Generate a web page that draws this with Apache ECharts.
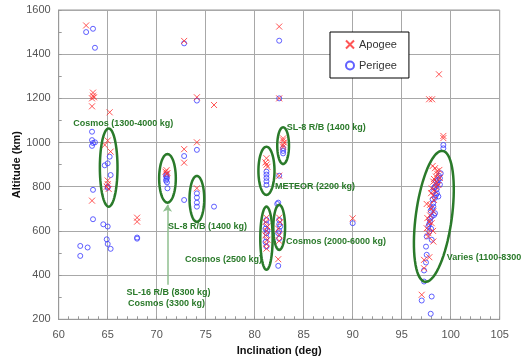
<!DOCTYPE html>
<html>
<head>
<meta charset="utf-8">
<script src="https://cdn.jsdelivr.net/npm/echarts@6/dist/echarts.min.js"></script>
<style>
  html, body { margin: 0; padding: 0; background: #fff; }
  #chart { width: 524px; height: 360px; }
</style>
</head>
<body>
<div id="chart"></div>
<script>
// [inclination (deg), altitude (km)]
const apogee = [
  [62.8, 1530], [63.5, 1226], [63.5, 1212], [63.6, 1205], [63.4, 1200], [63.4, 1164],
  [65.2, 1137], [65.0, 1009], [64.7, 989], [65.3, 959], [65.0, 828], [65.0, 812],
  [64.9, 800], [65.1, 790], [63.4, 737], [68.0, 660], [68.0, 642],
  [72.8, 1460], [74.1, 1205], [75.85, 1170], [74.1, 1001], [72.8, 970], [72.8, 909],
  [71.0, 875], [70.9, 868], [71.1, 862], [71.0, 858], [74.1, 793],
  [82.5, 1525], [82.5, 1200], [82.9, 1019], [82.9, 1010], [83.0, 1000], [82.9, 990],
  [82.9, 981], [81.2, 929], [81.1, 910], [81.2, 900], [81.3, 890], [82.5, 850],
  [81.2, 660], [81.1, 640], [81.3, 620], [81.2, 600], [81.1, 580], [81.3, 560],
  [81.2, 540], [81.2, 520], [82.5, 660], [82.6, 640], [82.4, 610], [82.5, 580],
  [82.5, 555], [82.4, 472], [90.0, 657],
  [98.8, 1309], [97.8, 1196], [98.1, 1196], [99.25, 1030], [99.25, 1020],
  [98.16, 894], [98.4, 884], [98.84, 876], [98.64, 858], [98.5, 846], [98.23, 823],
  [98.74, 808], [98.06, 793], [98.0, 771], [97.55, 722], [97.89, 718], [98.23, 688],
  [97.62, 658], [98.06, 635], [97.55, 612], [97.72, 590], [98.23, 552], [97.82, 481],
  [97.28, 469], [97.28, 431], [97.04, 311], [98.6, 870], [98.3, 835], [98.9, 840],
  [98.5, 800], [98.2, 760], [98.3, 740], [98.0, 700], [97.9, 670], [97.8, 640],
  [98.2, 600], [97.7, 575], [98.4, 780], [98.6, 820]
];
const perigee = [
  [62.8, 1500], [63.5, 1515], [63.7, 1429], [63.4, 1049], [63.4, 1011], [63.7, 1001],
  [63.5, 998], [63.4, 985], [65.2, 936], [65.0, 906], [64.7, 897], [65.3, 853],
  [65.0, 800], [65.0, 795], [63.5, 786], [63.5, 653], [64.55, 630], [65.0, 620],
  [64.9, 562], [65.0, 541], [65.3, 519], [62.2, 532], [62.2, 487], [62.95, 525],
  [68.0, 570], [68.0, 565],
  [72.8, 1449], [74.1, 1190], [74.1, 967], [72.8, 939], [71.0, 855], [70.95, 848],
  [71.05, 842], [71.0, 835], [70.95, 828], [71.05, 820], [71.1, 793], [72.8, 740],
  [74.1, 770], [74.1, 751], [74.1, 728], [74.1, 710], [75.85, 710],
  [82.5, 1461], [82.5, 1200], [82.9, 974], [82.9, 962], [82.9, 951], [81.2, 868],
  [81.2, 855], [81.2, 840], [81.2, 825], [81.2, 808], [82.5, 850], [82.4, 728],
  [81.2, 650], [81.2, 630], [81.1, 610], [81.3, 600], [81.2, 590], [81.2, 570],
  [81.1, 550], [81.2, 530], [82.5, 650], [82.5, 630], [82.6, 620], [82.5, 600],
  [82.4, 590], [82.5, 565], [82.3, 722], [82.4, 442], [90.0, 635],
  [99.25, 989], [99.25, 974], [98.98, 861], [98.9, 838], [98.64, 816], [98.4, 801],
  [98.57, 789], [98.23, 778], [98.5, 763], [98.74, 756], [98.16, 743], [98.23, 710],
  [97.96, 692], [98.4, 680], [98.06, 665], [97.89, 642], [97.72, 620], [97.82, 597],
  [97.55, 575], [98.06, 560], [97.48, 529], [97.55, 492], [97.48, 457], [97.28, 421],
  [97.28, 371], [97.04, 285], [98.06, 303], [97.96, 225], [98.8, 850], [98.7, 830],
  [98.5, 825], [98.9, 810], [98.3, 795], [98.6, 770], [98.4, 750], [98.2, 725],
  [98.1, 700], [98.3, 672], [97.9, 655], [97.8, 630], [98.0, 610]
];

// ellipses round the groups: [centre inc, centre alt, half width (deg), half height (km), tilt]
const ellipses = [
  [65.1, 887, 0.9, 177, 0],
  [71.1, 838, 0.85, 110, 0],
  [74.1, 745, 0.75, 104, 0],
  [81.2, 872, 0.82, 109, 0],
  [82.9, 986, 0.6, 83, 0],
  [81.2, 567, 0.63, 143, 0],
  [82.5, 616, 0.6, 102, 0],
  [98.28, 666, 1.84, 299, 7.7]
];

const labelPos = [
  [61.49, 1086], [66.92, 319], [67.07, 270], [71.15, 618], [72.89, 469],
  [82.07, 799], [83.27, 1067], [83.2, 552], [99.59, 481]
];
const labelText = [
  'Cosmos (1300-4000 kg)', 'SL-16 R/B (8300 kg)', 'Cosmos (3300 kg)', 'SL-8 R/B (1400 kg)',
  'Cosmos (2500 kg)', 'METEOR (2200 kg)', 'SL-8 R/B (1400 kg)', 'Cosmos (2000-6000 kg)',
  'Varies (1100-8300 kg)'
];
const arrowFrom = [71.1, 356];
const arrowTo = [71.1, 718];

const green = '#2a7a2a';
const font = '"Liberation Sans", Arial, sans-serif';

let chart = echarts.init(document.getElementById('chart'));
let option = {
  animation: false,
  textStyle: { fontFamily: font },
  grid: {
    left: 58.7, right: 24.3, top: 10, bottom: 40.7,
    outerBoundsMode: 'none',
    containLabel: false,
    show: true, borderColor: '#999', borderWidth: 1
  },
  legend: {
    data: ['Apogee', 'Perigee'],
    orient: 'vertical',
    left: 330, top: 32,
    padding: [7, 12, 7, 15],
    itemGap: 10,
    itemWidth: 8, itemHeight: 8,
    itemTextGap: 4,
    borderColor: '#000', borderWidth: 1,
    backgroundColor: '#fff',
    textStyle: { fontSize: 11, color: '#333', fontFamily: font }
  },
  xAxis: {
    type: 'value', min: 60, max: 105, interval: 5,
    name: 'Inclination (deg)', nameLocation: 'middle', nameGap: 26,
    nameTextStyle: { fontSize: 11, fontWeight: 'bold', color: '#111', fontFamily: font },
    axisLine: { show: true, lineStyle: { color: '#999' } },
    axisTick: { show: true, inside: true, length: 3, lineStyle: { color: '#999' } },
    minorTick: { show: true, splitNumber: 5, length: 3, lineStyle: { color: '#999' } },
    axisLabel: { color: '#555', fontSize: 11, margin: 10 },
    splitLine: { lineStyle: { color: '#a8a8a8' } }
  },
  yAxis: {
    type: 'value', min: 200, max: 1600, interval: 200,
    name: 'Altitude (km)', nameLocation: 'middle', nameGap: 36,
    nameMoveOverlap: false,
    nameTextStyle: { fontSize: 11, fontWeight: 'bold', color: '#111', fontFamily: font },
    axisLine: { show: true, lineStyle: { color: '#999' } },
    axisTick: { show: true, inside: true, length: 3, lineStyle: { color: '#999' } },
    minorTick: { show: true, splitNumber: 2, length: 3, lineStyle: { color: '#999' } },
    axisLabel: {
      color: '#555', fontSize: 11, margin: 8,
      formatter: function (v) { return String(v); }
    },
    splitLine: { lineStyle: { color: '#a8a8a8' } }
  },
  series: [
    {
      name: 'Perigee',
      type: 'scatter',
      symbol: 'circle',
      symbolSize: 5,
      itemStyle: { color: 'rgba(0,0,0,0)', borderColor: '#3a3aff', borderWidth: 1 },
      data: perigee,
      z: 3
    },
    {
      name: 'Apogee',
      type: 'scatter',
      symbol: 'path://M0,0L10,10M10,0L0,10',
      symbolSize: 6,
      itemStyle: { color: 'rgba(0,0,0,0)', borderColor: '#ff2a2a', borderWidth: 1 },
      data: apogee,
      z: 4,
      markLine: {
        silent: true,
        symbol: ['none', 'arrow'],
        symbolSize: 7,
        label: { show: false },
        lineStyle: { color: '#8fbf8f', type: 'solid', width: 1.5 },
        data: [[{ coord: arrowFrom }, { coord: arrowTo }]]
      }
    },
    {
      type: 'custom',
      silent: true,
      z: 5,
      renderItem: function (params, api) {
        var c = api.coord([api.value(0), api.value(1)]);
        var s = api.size([api.value(2), api.value(3)]);
        var rot = api.value(4) * Math.PI / 180;
        var pts = [];
        for (var i = 0; i < 72; i++) {
          var t = i / 72 * Math.PI * 2;
          var x = s[0] * Math.cos(t), y = s[1] * Math.sin(t);
          pts.push([c[0] + x * Math.cos(rot) - y * Math.sin(rot),
                    c[1] + x * Math.sin(rot) + y * Math.cos(rot)]);
        }
        return {
          type: 'polygon',
          shape: { points: pts },
          style: { fill: 'none', stroke: green, lineWidth: 2.5 }
        };
      },
      data: ellipses
    },
    {
      type: 'custom',
      silent: true,
      z: 6,
      renderItem: function (params, api) {
        var c = api.coord([api.value(0), api.value(1)]);
        return {
          type: 'text',
          x: c[0], y: c[1],
          style: {
            text: labelText[params.dataIndex],
            fill: green,
            font: 'bold 9px ' + font,
            align: 'left',
            verticalAlign: 'middle'
          }
        };
      },
      data: labelPos
    }
  ]
};
chart.setOption(option);
</script>
</body>
</html>
